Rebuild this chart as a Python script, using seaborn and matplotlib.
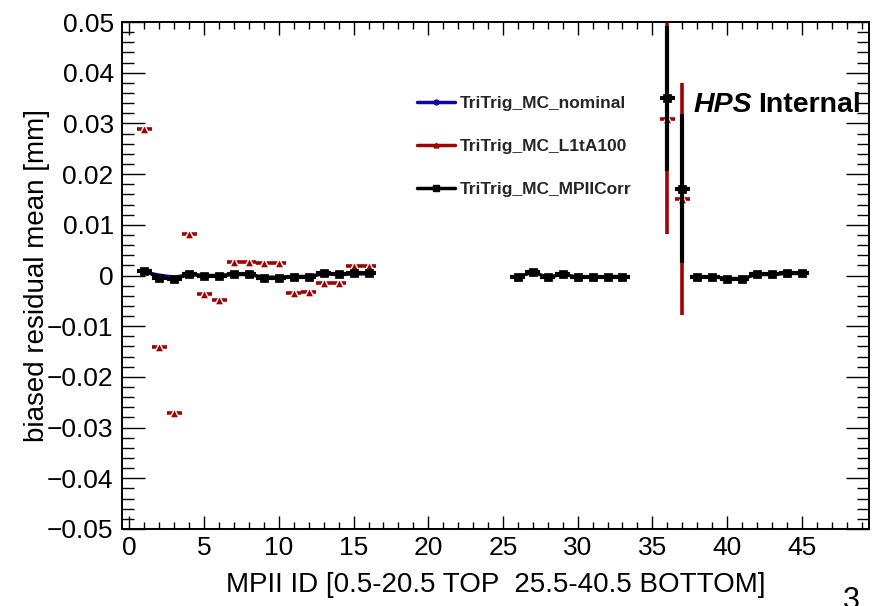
import numpy as np
import pandas as pd
import matplotlib
matplotlib.use("Agg")
import matplotlib.pyplot as plt
from matplotlib.ticker import MultipleLocator, FuncFormatter
from matplotlib.lines import Line2D
import seaborn as sns

# MPII channels (top: 1-16, bottom: 26-45)
mpii_id = [1, 2, 3, 4, 5, 6, 7, 8, 9, 10, 11, 12, 13, 14, 15, 16,
           26, 27, 28, 29, 30, 31, 32, 33,
           36, 37,
           38, 39, 40, 41, 42, 43, 44, 45]
# polyline groups (points inside one group are joined)
line_group = [0] * 16 + [1] * 8 + [2, 3] + [4] * 8

nan = np.nan
nominal = [0.0007, 0.0001, -0.0003, 0.0002, 0.0000, 0.0000, 0.0002, 0.0002,
           -0.0003, -0.0003, -0.0002, -0.0002, 0.0003, 0.0002, 0.0003, 0.0003,
           nan, nan, nan, nan, nan, nan, nan, nan,
           nan, nan,
           nan, nan, nan, nan, nan, nan, nan, nan]
l1ta100 = [0.0288, -0.0142, -0.0272, 0.0081, -0.0037, -0.0048, 0.0027, 0.0027,
           0.0025, 0.0025, -0.0034, -0.0032, -0.0015, -0.0015, 0.0019, 0.0019,
           -0.0002, 0.0006, -0.0003, 0.0002, -0.0003, -0.0003, -0.0002, -0.0002,
           0.0309, 0.0151,
           -0.0003, -0.0002, -0.0006, -0.0006, 0.0002, 0.0002, 0.0004, 0.0004]
l1ta100_err = [0.0002] * 24 + [0.0227, 0.0228] + [0.0002] * 8
mpiicorr = [0.0009, -0.0004, -0.0007, 0.0002, 0.0000, 0.0000, 0.0002, 0.0002,
            -0.0004, -0.0004, -0.0002, -0.0002, 0.0004, 0.0002, 0.0004, 0.0004,
            -0.0002, 0.0006, -0.0003, 0.0002, -0.0003, -0.0003, -0.0002, -0.0002,
            0.0350, 0.0171,
            -0.0003, -0.0002, -0.0006, -0.0006, 0.0002, 0.0002, 0.0004, 0.0004]
mpiicorr_err = [0.0002] * 24 + [0.0143, 0.0147] + [0.0002] * 8
bin_half = 0.5

series_labels = ["TriTrig_MC_nominal", "TriTrig_MC_L1tA100", "TriTrig_MC_MPIICorr"]
x_title = "MPII ID [0.5-20.5 TOP  25.5-40.5 BOTTOM]"
y_title = "biased residual mean [mm]"

c_blue = "#0a0a9a"
c_red = "#a00000"
c_black = "#000000"

df = pd.DataFrame({
    "mpii_id": mpii_id, "group": line_group,
    "nominal": nominal, "l1ta100": l1ta100, "l1ta100_err": l1ta100_err,
    "mpiicorr": mpiicorr, "mpiicorr_err": mpiicorr_err,
})

sns.set_theme(style="ticks")
plt.rcParams["font.family"] = ["Liberation Sans", "DejaVu Sans"]
plt.rcParams["axes.unicode_minus"] = True

fig = plt.figure(figsize=(8.85, 6.06), dpi=100)
ax = fig.add_axes([122 / 885, 1 - 529 / 606, (869 - 122) / 885, (529 - 22) / 606])

# L1tA100: triangles with x/y error bars, no joining line
ax.errorbar(df["mpii_id"], df["l1ta100"], xerr=bin_half, yerr=df["l1ta100_err"],
            fmt="none", ecolor=c_red, elinewidth=2.6, capsize=0, zorder=2)
sns.scatterplot(data=df, x="mpii_id", y="l1ta100", marker="^", s=42,
                color=c_red, edgecolor="white", linewidth=1.0, ax=ax,
                zorder=3, legend=False)

# nominal: joined line
nom = df.dropna(subset=["nominal"])
sns.lineplot(data=nom, x="mpii_id", y="nominal", units="group", estimator=None,
             color=c_blue, lw=2.2, ax=ax, zorder=4, legend=False)

# MPIICorr: joined line, error bars and squares
sns.lineplot(data=df, x="mpii_id", y="mpiicorr", units="group", estimator=None,
             color=c_black, lw=2.4, ax=ax, zorder=5, legend=False)
ax.errorbar(df["mpii_id"], df["mpiicorr"], xerr=bin_half, yerr=df["mpiicorr_err"],
            fmt="none", ecolor=c_black, elinewidth=3.0, capsize=0, zorder=5)
sns.scatterplot(data=df, x="mpii_id", y="mpiicorr", marker="s", s=40,
                color=c_black, edgecolor=c_black, linewidth=0.5, ax=ax,
                zorder=6, legend=False)

ax.set_xlim(-0.5, 49.5)
ax.set_ylim(-0.05, 0.05)


def y_fmt(v, pos):
    if abs(v) < 1e-9:
        return "0"
    return ("%g" % round(v, 4)).replace("-", "\u2212")


ax.xaxis.set_major_locator(MultipleLocator(5))
ax.xaxis.set_minor_locator(MultipleLocator(1))
ax.yaxis.set_major_locator(MultipleLocator(0.01))
ax.yaxis.set_minor_locator(MultipleLocator(0.002))
ax.yaxis.set_major_formatter(FuncFormatter(y_fmt))
ax.xaxis.set_major_formatter(FuncFormatter(lambda v, p: "%d" % round(v)))

ax.tick_params(which="both", direction="in", top=True, right=True,
               color="black", width=1.0, labelsize=19, labelcolor="black")
ax.tick_params(axis="x", which="major", length=9.5, pad=5)
ax.tick_params(axis="x", which="minor", length=5)
ax.tick_params(axis="y", which="major", length=16.5, pad=6)
ax.tick_params(axis="y", which="minor", length=8.5)
for sp in ax.spines.values():
    sp.set_color("black")
    sp.set_linewidth(1.4)

ax.set_xlabel(x_title, fontsize=20, color="black", labelpad=9)
ax.set_ylabel(y_title, fontsize=20, color="black", labelpad=-2)

handles = [
    Line2D([], [], color=c_blue, lw=2.5, marker="o", ms=3.5),
    Line2D([], [], color=c_red, lw=2.5, marker="^", ms=3.5),
    Line2D([], [], color=c_black, lw=2.5, marker="s", ms=4),
]
leg = ax.legend(handles, series_labels, loc="upper left",
                bbox_to_anchor=((417 - 122) / 747, 1 - (96 - 22) / 507),
                frameon=False, prop={"weight": "bold", "size": 12.5},
                handlelength=2.2, handletextpad=0.25, labelspacing=1.6,
                borderaxespad=0, borderpad=0)

# experiment tag: bold-italic "HPS" followed by bold "Internal"
hps = fig.text(693 / 885, 1 - 112 / 606, "HPS", fontsize=20.5,
               fontweight="bold", fontstyle="italic", va="baseline",
               ha="left", color="black")
fig.canvas.draw()
bb = hps.get_window_extent(renderer=fig.canvas.get_renderer())
fig.text((bb.x1 + 7) / 885, 1 - 112 / 606, "Internal", fontsize=20.5,
         fontweight="bold", va="baseline", ha="left", color="black")

fig.text(843 / 885, 1 - 586 / 606, "3", fontsize=22, va="top", ha="left",
         color="black")

fig.savefig("out.png", dpi=100)
